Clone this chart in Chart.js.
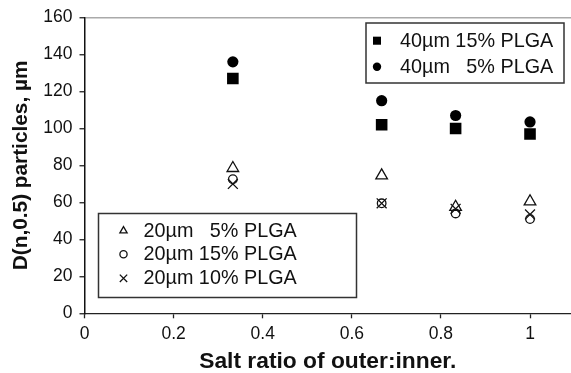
<!DOCTYPE html>
<html>
<head>
<meta charset="utf-8">
<script src="https://cdn.jsdelivr.net/npm/chart.js@4/dist/chart.umd.min.js"></script>
<style>
html,body{margin:0;padding:0;background:#fff;}
#wrap{width:571px;height:373px;position:relative;}
</style>
</head>
<body>
<div id="wrap"><canvas id="c" width="571" height="373"></canvas></div>
<script>
// ---- data ----
const saltRatio   = [0.333, 0.667, 0.833, 1.0];
const d40um15pct  = [127, 102, 100, 97];
const d40um5pct   = [136, 115, 107, 103.5];
const d20um5pct   = [78.5, 74.5, 57.5, 60.5];
const d20um15pct  = [72.5, 59.5, 54, 51];
const d20um10pct  = [70, 59.5, 56.5, 53.5];
const seriesLabels = ['40\u00b5m 15% PLGA', '40\u00b5m   5% PLGA', '20\u00b5m   5% PLGA', '20\u00b5m 15% PLGA', '20\u00b5m 10% PLGA'];
const xTickValues = [0, 0.2, 0.4, 0.6, 0.8, 1];
const xTickLabels = ['0', '0.2', '0.4', '0.6', '0.8', '1'];
const yTickValues = [0, 20, 40, 60, 80, 100, 120, 140, 160];
const xTitle = 'Salt ratio of outer:inner.';
const yTitle = 'D(n,0.5) particles, \u00b5m';

const FONT = '"Liberation Sans", Arial, Helvetica, sans-serif';
const pts = (ys) => saltRatio.map((x, i) => ({x: x, y: ys[i]}));

const datasets = [
  {label: seriesLabels[0], data: pts(d40um15pct), pointStyle: 'rect', pointRadius: 8.2, backgroundColor: '#000', borderColor: '#000', pointBorderWidth: 0, legendRadius: 5.7},
  {label: seriesLabels[1], data: pts(d40um5pct), pointStyle: 'circle', pointRadius: 5.6, backgroundColor: '#000', borderColor: '#000', pointBorderWidth: 0, legendRadius: 4.2},
  {label: seriesLabels[2], data: pts(d20um5pct), pointStyle: 'triangle', pointRadius: 6.7, backgroundColor: 'rgba(0,0,0,0)', borderColor: '#111', pointBorderWidth: 1.3, legendRadius: 4.2},
  {label: seriesLabels[3], data: pts(d20um15pct), pointStyle: 'circle', pointRadius: 4.3, backgroundColor: 'rgba(0,0,0,0)', borderColor: '#111', pointBorderWidth: 1.3, legendRadius: 3.6},
  {label: seriesLabels[4], data: pts(d20um10pct), pointStyle: 'crossRot', pointRadius: 7, backgroundColor: 'rgba(0,0,0,0)', borderColor: '#111', pointBorderWidth: 1.3, legendRadius: 5.2}
];
datasets.forEach(d => { d.showLine = false; d.pointHoverRadius = d.pointRadius; });

// two framed legend boxes (layout only; labels/styles come from datasets)
const legendLayout = [
  {box: [366, 23, 198, 60], series: [0, 1], markerX: 377, textX: 400, rowY: [40.7, 66.7]},
  {box: [98.5, 213.5, 258, 84], series: [2, 3, 4], markerX: 123.5, textX: 143.5, rowY: [230.8, 254.3, 278.3]}
];

const boxLegendPlugin = {
  id: 'boxLegend',
  afterDatasetsDraw(chart) {
    const ctx = chart.ctx;
    ctx.save();
    legendLayout.forEach(L => {
      const [bx, by, bw, bh] = L.box;
      ctx.fillStyle = '#fff';
      ctx.fillRect(bx, by, bw, bh);
      ctx.lineWidth = 1.5;
      ctx.strokeStyle = '#333';
      ctx.strokeRect(bx, by, bw, bh);
      L.series.forEach((si, r) => {
        const ds = chart.data.datasets[si];
        const y = L.rowY[r];
        ctx.fillStyle = ds.backgroundColor;
        ctx.strokeStyle = ds.borderColor;
        ctx.lineWidth = ds.pointBorderWidth || 0;
        Chart.helpers.drawPoint(ctx, {pointStyle: ds.pointStyle, radius: ds.legendRadius, borderWidth: ds.pointBorderWidth, rotation: 0}, L.markerX, y);
        ctx.fillStyle = '#111';
        ctx.font = '19.8px ' + FONT;
        ctx.textBaseline = 'middle';
        ctx.textAlign = 'left';
        ctx.fillText(ds.label, L.textX, y + 0.5);
      });
    });
    ctx.restore();
  }
};

new Chart(document.getElementById('c'), {
  type: 'scatter',
  data: {datasets: datasets},
  plugins: [boxLegendPlugin],
  options: {
    responsive: false,
    animation: false,
    devicePixelRatio: 1,
    layout: {autoPadding: false, padding: {top: 17.3, right: 0, bottom: 0, left: 0}},
    plugins: {legend: {display: false}, tooltip: {enabled: false}},
    scales: {
      x: {
        type: 'linear',
        min: 0,
        max: 1.092,
        afterBuildTicks: s => { s.ticks = xTickValues.map(v => ({value: v})); },
        afterFit: s => { s.height = 59.7; },
        ticks: {
          font: {family: FONT, size: 17.5, lineHeight: 1}, color: '#111', padding: 7.5, maxRotation: 0,
          callback: (v) => { const i = xTickValues.indexOf(v); return i >= 0 ? xTickLabels[i] : ''; }
        },
        grid: {drawOnChartArea: false, color: 'rgba(0,0,0,0)', tickColor: '#222', tickLength: 5, tickWidth: 1.3},
        border: {display: true, color: '#222', width: 1.3},
        title: {display: true, text: xTitle, color: '#111', font: {family: FONT, size: 22.8, weight: 'bold', lineHeight: 1}, padding: {top: 0, bottom: 0}}
      },
      y: {
        type: 'linear',
        min: 0,
        max: 160,
        afterBuildTicks: s => { s.ticks = yTickValues.map(v => ({value: v})); },
        afterFit: s => { s.width = 84.5; },
        ticks: {font: {family: FONT, size: 17.5}, color: '#111', padding: 7},
        grid: {
          drawOnChartArea: true,
          color: c => (c.tick && c.tick.value === 160) ? '#aaa' : 'rgba(0,0,0,0)',
          lineWidth: 1.5,
          tickColor: '#222', tickLength: 5, tickWidth: 1.3
        },
        border: {display: true, color: '#111', width: 1.5},
        title: {display: true, text: yTitle, color: '#111', font: {family: FONT, size: 20.8, weight: 'bold', lineHeight: 1}, padding: {top: 11, bottom: 0}}
      }
    }
  }
});
</script>
</body>
</html>
